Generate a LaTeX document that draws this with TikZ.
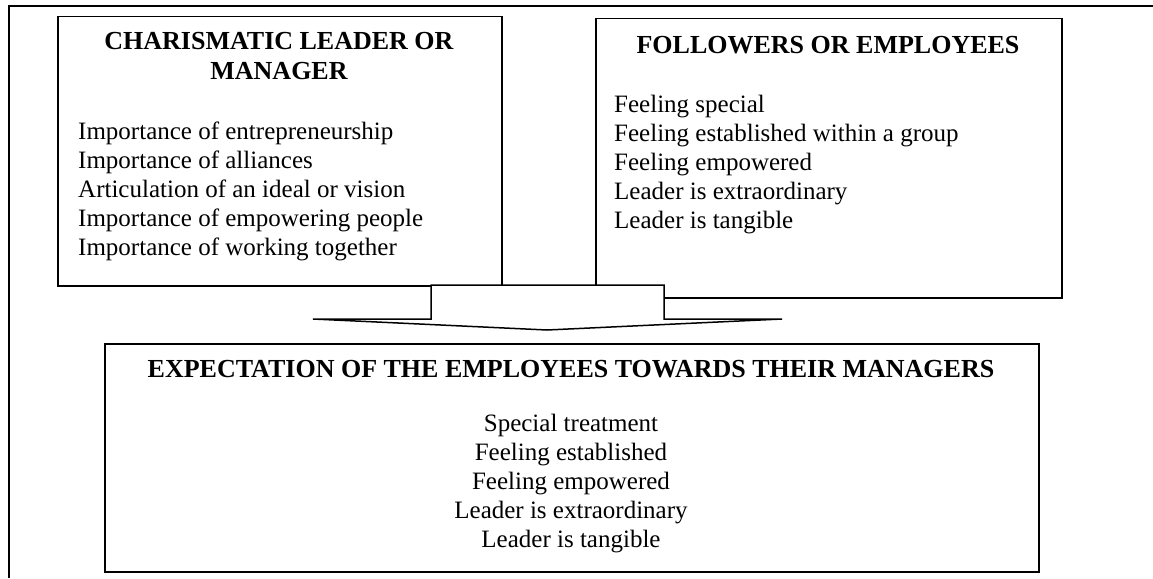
\documentclass[tikz,border=0pt]{standalone}
\usepackage{fontspec}
\setmainfont{Liberation Serif}
\usetikzlibrary{positioning, calc}

\tikzset{
	box/.style={draw, black, line width=1.5pt, anchor=north west, inner sep=0pt},
	head/.style={font=\fontsize{26pt}{29pt}\selectfont\bfseries, inner sep=0pt, anchor=base},
	item/.style={font=\fontsize{25pt}{29pt}\selectfont, inner sep=0pt},
	frame/.style={draw, black, line width=2pt}
}

\begin{document}
\begin{tikzpicture}[x=1pt, y=-1pt]
		
		\useasboundingbox (0,0) rectangle (1153,578);
		
		%Outer frame
		\draw[frame] (9,578) -- (9,6) -- (1153,6);
		
		%Boxes
		\node[box, minimum width=444pt, minimum height=269pt] (leader) at (57,16){};
		\node[box, minimum width=466pt, minimum height=279pt] (followers) at (595,18){};
		\node[box, minimum width=934pt, minimum height=228pt] (expect) at (104,343){};
		
		%Block arrow
		\coordinate (stemL) at (431,285);
		\coordinate (stemR) at (664,285);
		\coordinate (tip) at (547,330);
		\draw[line width=1.5pt, fill=white, line join=miter] (stemL) -- (stemR) -- (664,319) -- (782,319)
		-- (tip) -- (313,319) -- (431,319) -- cycle;
		
		%Titles
		\node[head] (leaderA) at (279,50){CHARISMATIC LEADER OR};
		\node[head] (leaderB) at (279,79){MANAGER};
		\node[head] (folT) at (828,53){FOLLOWERS OR EMPLOYEES};
		\node[head] (expT) at (571,377){EXPECTATION OF THE EMPLOYEES TOWARDS THEIR MANAGERS};
		
		%Items
		\foreach \txt [count=\i from 0] in {Importance of entrepreneurship, Importance of alliances,
			Articulation of an ideal or vision, Importance of empowering people,
			Importance of working together}
		\node[item, anchor=base west] (lead\i) at (78,{139+29*\i}){\txt};
		
		\foreach \txt [count=\i from 0] in {Feeling special, Feeling established within a group,
			Feeling empowered, Leader is extraordinary, Leader is tangible}
		\node[item, anchor=base west] (fol\i) at (614,{112+29*\i}){\txt};
		
		\foreach \txt [count=\i from 0] in {Special treatment, Feeling established,
			Feeling empowered, Leader is extraordinary, Leader is tangible}
		\node[item, anchor=base] (exp\i) at (571,{431+29*\i}){\txt};
		
\end{tikzpicture}
\end{document}
